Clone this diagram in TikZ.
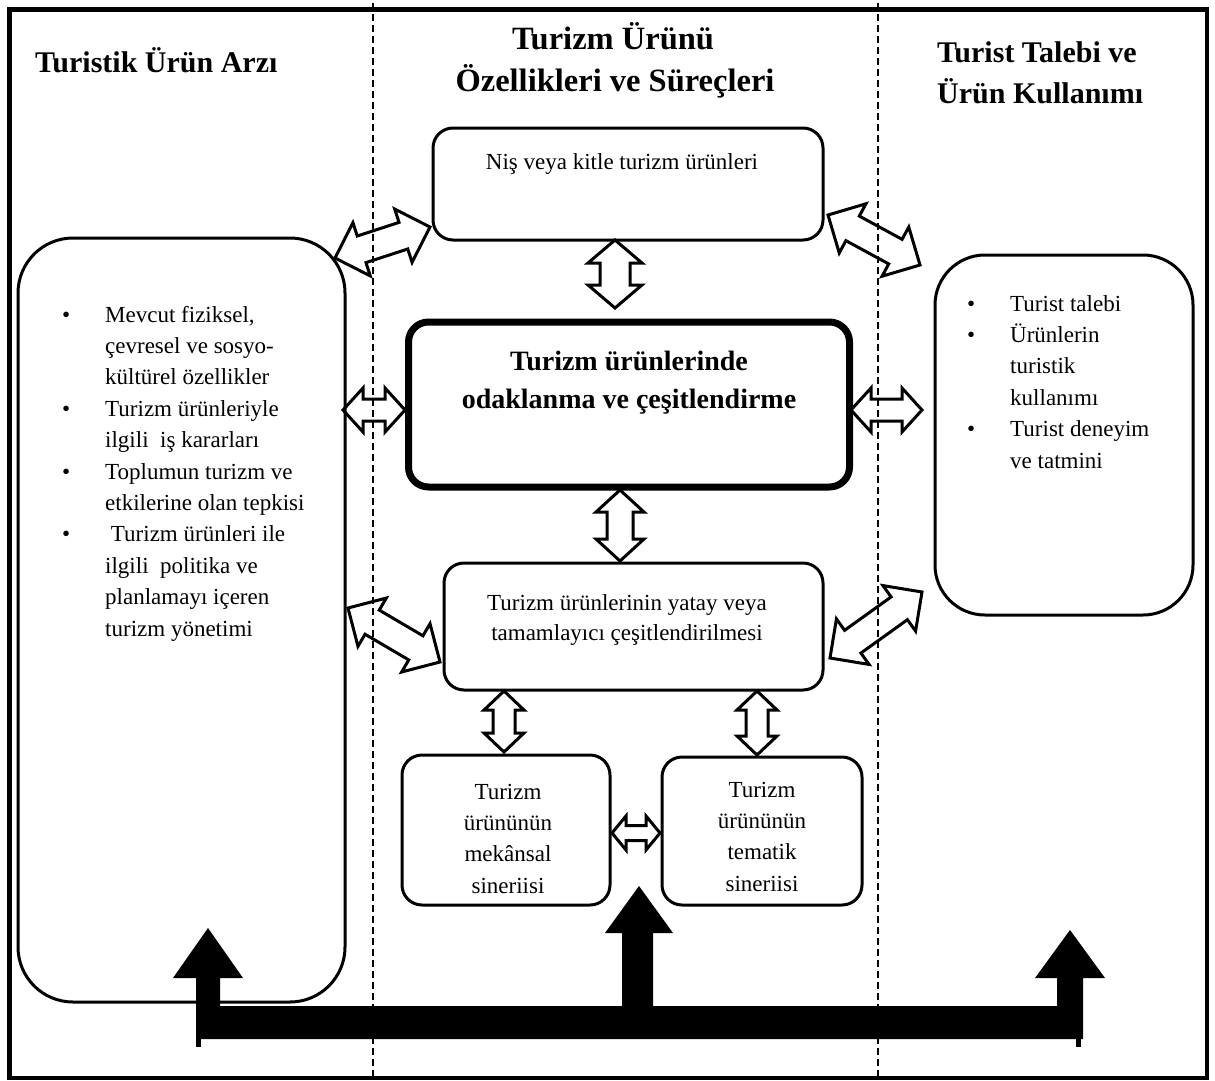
\documentclass[tikz,border=0pt]{standalone}
\usepackage{fontspec}
\setmainfont{Liberation Serif}
\usetikzlibrary{calc}
\newcommand\dblarrow[5]{% #1,#2 tips; #3 shaft half; #4 head half; #5 head length
  \draw[arrowline] (#1)
    -- ($(#1)!#5pt!(#2)!#4pt!90:(#2)$)
    -- ($(#1)!#5pt!(#2)!#3pt!90:(#2)$)
    -- ($(#2)!#5pt!(#1)!#3pt!-90:(#1)$)
    -- ($(#2)!#5pt!(#1)!#4pt!-90:(#1)$)
    -- (#2)
    -- ($(#2)!#5pt!(#1)!#4pt!90:(#1)$)
    -- ($(#2)!#5pt!(#1)!#3pt!90:(#1)$)
    -- ($(#1)!#5pt!(#2)!#3pt!-90:(#2)$)
    -- ($(#1)!#5pt!(#2)!#4pt!-90:(#2)$)
    -- cycle;}
\begin{document}
\begin{tikzpicture}[x=1pt,y=-1pt,
  box/.style={draw, line width=3pt, rounded corners=20pt, inner sep=0pt},
  body/.style={font=\fontsize{23}{31.4}\selectfont, inner sep=0pt},
  hdr/.style={font=\bfseries\fontsize{30}{40}\selectfont, inner sep=0pt},
  arrowline/.style={draw, line width=3pt, line join=miter},
  sep/.style={dash pattern=on 7pt off 4pt, line width=1.3pt}]
\useasboundingbox (0,0) rectangle (1215,1081);
% frame and separators
\draw[line width=4.5pt] (9.5,9.5) rectangle (1207,1078);
\draw[sep] (373,3) -- (373,1078);
\draw[sep] (878,3) -- (878,1078);
% headers
\node[hdr, anchor=base west] (h1) at (35,73) {Turistik Ürün Arzı};
\node[hdr, font=\bfseries\fontsize{32.5}{40}\selectfont, anchor=base] (h2a) at (613,50) {Turizm Ürünü};
\node[hdr, font=\bfseries\fontsize{32.5}{40}\selectfont, anchor=base] (h2b) at (615,92) {Özellikleri ve Süreçleri};
\node[hdr, anchor=base west] (h3a) at (937,63) {Turist Talebi ve};
\node[hdr, anchor=base west] (h3b) at (937,103) {Ürün Kullanımı};
% boxes
\node[box, minimum width=390pt, minimum height=112pt] (top) at (628,184) {};
\node[box, line width=7pt, minimum width=441pt, minimum height=165pt] (mid) at (629,404.5) {};
\node[box, minimum width=379pt, minimum height=127pt] (hor) at (633.5,626.5) {};
\node[box, minimum width=208pt, minimum height=150pt] (spa) at (506,830) {};
\node[box, minimum width=200pt, minimum height=148pt] (tem) at (762,831) {};
\node[box, rounded corners=55pt, minimum width=327pt, minimum height=764pt] (left) at (181.5,620) {};
\node[box, rounded corners=50pt, minimum width=258pt, minimum height=360pt] (right) at (1064,435) {};
% texts
\node[body, anchor=base] (ttop) at (622,169) {Niş veya kitle turizm ürünleri};
\node[body, font=\bfseries\fontsize{28}{38}\selectfont, anchor=base] (tmid) at (629,370)
  {\begin{tabular}[t]{@{}c@{}}Turizm ürünlerinde\\odaklanma ve çeşitlendirme\end{tabular}};
\node[body, font=\fontsize{23}{30}\selectfont, anchor=base] (thor) at (627,610)
  {\begin{tabular}[t]{@{}c@{}}Turizm ürünlerinin yatay veya\\tamamlayıcı çeşitlendirilmesi\end{tabular}};
\node[body, anchor=base] (tspa) at (508,799)
  {\begin{tabular}[t]{@{}c@{}}Turizm\\ürününün\\mekânsal\\sineriisi\end{tabular}};
\node[body, anchor=base] (ttem) at (762,797)
  {\begin{tabular}[t]{@{}c@{}}Turizm\\ürününün\\tematik\\sineriisi\end{tabular}};
\node[body, anchor=base west] (tleft) at (62,322)
  {\begin{tabular}[t]{@{}l@{}l@{}}
  \makebox[43pt][l]{•} & Mevcut fiziksel,\\
  & çevresel ve sosyo-\\
  & kültürel özellikler\\
  • & Turizm ürünleriyle\\
  & ilgili~ iş kararları\\
  • & Toplumun turizm ve\\
  & etkilerine olan tepkisi\\
  • & ~Turizm ürünleri ile\\
  & ilgili~ politika ve\\
  & planlamayı içeren\\
  & turizm yönetimi
  \end{tabular}};
\node[body, anchor=base west] (tright) at (967,311)
  {\begin{tabular}[t]{@{}l@{}l@{}}
  \makebox[43pt][l]{•} & Turist talebi\\
  • & Ürünlerin\\
  & turistik\\
  & kullanımı\\
  • & Turist deneyim\\
  & ve tatmini
  \end{tabular}};
% connector end points
\coordinate (a1s) at (335,258);  \coordinate (a1e) at (430,227);
\coordinate (a2s) at (828,215);  \coordinate (a2e) at (920,265);
\coordinate (a3s) at (615,240);  \coordinate (a3e) at (615,308);
\coordinate (a4s) at (343,410);  \coordinate (a4e) at (405,410);
\coordinate (a5s) at (851,410);  \coordinate (a5e) at (922,410);
\coordinate (a6s) at (620,490);  \coordinate (a6e) at (620,561);
\coordinate (a7s) at (348,608);  \coordinate (a7e) at (440,662);
\coordinate (a8s) at (830,658);  \coordinate (a8e) at (922,592);
\coordinate (a9s) at (504,691);  \coordinate (a9e) at (504,752);
\coordinate (a10s) at (757,691); \coordinate (a10e) at (757,755);
\coordinate (a11s) at (612,833); \coordinate (a11e) at (660,833);
% double arrows
\dblarrow{a1s}{a1e}{14}{28}{28}
\dblarrow{a2s}{a2e}{14}{28}{28}
\dblarrow{a3s}{a3e}{15}{27}{23}
\dblarrow{a4s}{a4e}{11}{22}{20}
\dblarrow{a5s}{a5e}{11}{22}{20}
\dblarrow{a6s}{a6e}{13}{24}{22}
\dblarrow{a7s}{a7e}{14}{28}{28}
\dblarrow{a8s}{a8e}{14}{28}{28}
\dblarrow{a9s}{a9e}{11}{20}{19}
\dblarrow{a10s}{a10e}{11}{20}{19}
\dblarrow{a11s}{a11e}{7.5}{17}{14}
% bottom black arrows
\fill (173,978) -- (208,928) -- (243,978) -- (220,978) -- (220,1006)
  -- (622,1006) -- (622,933) -- (605,933) -- (639,886) -- (673,933) -- (653,933) -- (653,1006)
  -- (1057,1006) -- (1057,978) -- (1035,978) -- (1070,930) -- (1105,978) -- (1083,978)
  -- (1083,1039) -- (196,1039) -- (196,978) -- cycle;
\fill (196,1039) rectangle (201,1047);
\fill (1076,1039) rectangle (1081,1047);
\end{tikzpicture}
\end{document}
